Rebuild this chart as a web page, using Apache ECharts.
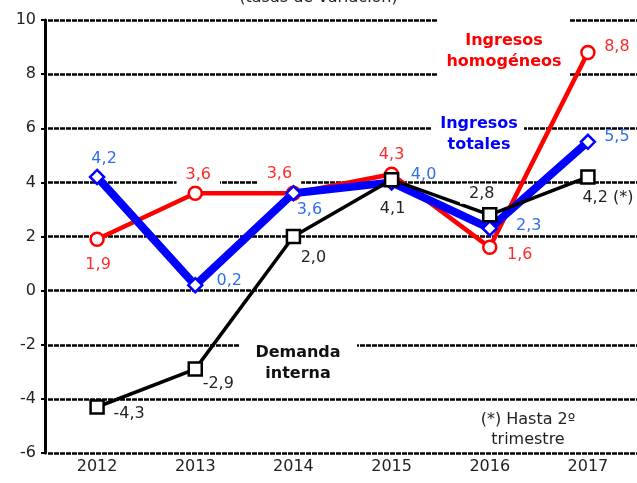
<!DOCTYPE html>
<html>
<head>
<meta charset="utf-8">
<script src="https://cdn.jsdelivr.net/npm/echarts@6/dist/echarts.min.js"></script>
<style>
html,body{margin:0;padding:0;background:#fff;}
#c{width:637px;height:483px;}
</style>
</head>
<body>
<div id="c"></div>
<script>
// ---- data ----
const years = ['2012', '2013', '2014', '2015', '2016', '2017'];
const ingresosHomogeneos = [1.9, 3.6, 3.6, 4.3, 1.6, 8.8];
const ingresosTotales = [4.2, 0.2, 3.6, 4.0, 2.3, 5.5];
const demandaInterna = [-4.3, -2.9, 2.0, 4.1, 2.8, 4.2];
const demandaSuffix = ['', '', '', '', '', ' (*)'];
const yMin = -6, yMax = 10, yStep = 2;

// ---- label placement (style only) ----
const redOffsets = [[1, 26], [3, -18], [-14, -19], [0, -19], [30, 8], [29, -6]];
const blueOffsets = [[7, -18], [34, -4], [16, 17], [32, -8], [39, -3], [29, -5]];
const blackOffsets = [[32, 7], [23, 15], [20, 21], [1, 29], [-8, -21], [20, 21]];
const redBg = [false, true, true, false, false, false];
const blackBg = [false, false, false, false, true, false];

const FONT = '"DejaVu Sans", Verdana, sans-serif';
const fmt = v => v.toFixed(1).replace('.', ',');

function buildData(values, offsets, bgs, suffix) {
  return values.map((v, i) => ({
    value: v,
    label: Object.assign(
      { offset: offsets[i], formatter: () => fmt(v) + (suffix ? suffix[i] : '') },
      bgs && bgs[i] ? { backgroundColor: '#fff', padding: [2, 9] } : {}
    )
  }));
}

const baseLabel = (color) => ({
  show: true,
  position: 'inside',
  color: color,
  fontFamily: FONT,
  fontSize: 16
});

const chart = echarts.init(document.getElementById('c'), null, { renderer: 'canvas' });
chart.setOption({
  animation: false,
  backgroundColor: '#fff',
  grid: { left: 48, right: 0, top: 20, bottom: 30, outerBoundsMode: 'none', containLabel: false },
  xAxis: {
    type: 'category',
    data: years,
    boundaryGap: true,
    axisLine: { show: false },
    axisTick: { show: false },
    axisLabel: { color: '#222', fontFamily: FONT, fontSize: 16, margin: 6 },
    splitLine: { show: false }
  },
  yAxis: {
    type: 'value',
    min: yMin, max: yMax, interval: yStep,
    offset: 3,
    axisLine: { show: true, lineStyle: { color: '#000', width: 3 } },
    axisTick: { show: true, length: 4, lineStyle: { color: '#000', width: 2 } },
    axisLabel: { color: '#222', fontFamily: FONT, fontSize: 16, margin: 9 },
    splitLine: { show: true, lineStyle: { color: '#000', width: 2.5, type: [5, 1] } }
  },
  graphic: [
    { type: 'text', left: 'center', top: -10, z: 5,
      style: { text: '(tasas de variación)', fill: '#222', font: '16px ' + FONT } },
    // Ingresos homogéneos
    { type: 'rect', shape: { x: 438, y: 15, width: 131, height: 64 }, style: { fill: '#fff' }, z: 1 },
    { type: 'text', x: 504, y: 30, z: 1,
      style: { text: 'Ingresos\nhomogéneos', fill: '#ff0000', font: 'bold 16px ' + FONT,
               align: 'center', verticalAlign: 'top', lineHeight: 21 } },
    // Ingresos totales
    { type: 'rect', shape: { x: 432, y: 113, width: 92, height: 40 }, style: { fill: '#fff' }, z: 1 },
    { type: 'text', x: 479, y: 113, z: 1,
      style: { text: 'Ingresos\ntotales', fill: '#0000ff', font: 'bold 16px ' + FONT,
               align: 'center', verticalAlign: 'top', lineHeight: 21 } },
    // Demanda interna
    { type: 'rect', shape: { x: 240, y: 337, width: 117, height: 46 }, style: { fill: '#fff' }, z: 1 },
    { type: 'text', x: 298, y: 342, z: 1,
      style: { text: 'Demanda\ninterna', fill: '#111', font: 'bold 16px ' + FONT,
               align: 'center', verticalAlign: 'top', lineHeight: 21 } },
    // footnote
    { type: 'text', x: 528, y: 410, z: 1,
      style: { text: '(*) Hasta 2º\ntrimestre', fill: '#222', font: '16px ' + FONT,
               align: 'center', verticalAlign: 'top', lineHeight: 20 } }
  ],
  series: [
    {
      name: 'Ingresos homogéneos', type: 'line', z: 3,
      data: buildData(ingresosHomogeneos, redOffsets, redBg),
      symbol: 'circle', symbolSize: 13,
      lineStyle: { color: '#ff0000', width: 4.5 },
      itemStyle: { color: '#fff', borderColor: '#ff0000', borderWidth: 2.5 },
      label: baseLabel('#ff2a2a')
    },
    {
      name: 'Ingresos totales', type: 'line', z: 4,
      data: buildData(ingresosTotales, blueOffsets, null),
      symbol: 'diamond', symbolSize: 14,
      lineStyle: { color: '#0000ff', width: 8 },
      itemStyle: { color: '#fff', borderColor: '#0000ff', borderWidth: 2.5 },
      label: baseLabel('#2f6fe8')
    },
    {
      name: 'Demanda interna', type: 'line', z: 5,
      data: buildData(demandaInterna, blackOffsets, blackBg, demandaSuffix),
      symbol: 'rect', symbolSize: 13,
      lineStyle: { color: '#000', width: 3.5 },
      itemStyle: { color: '#fff', borderColor: '#000', borderWidth: 2.5 },
      label: baseLabel('#222')
    }
  ]
});
</script>
</body>
</html>
